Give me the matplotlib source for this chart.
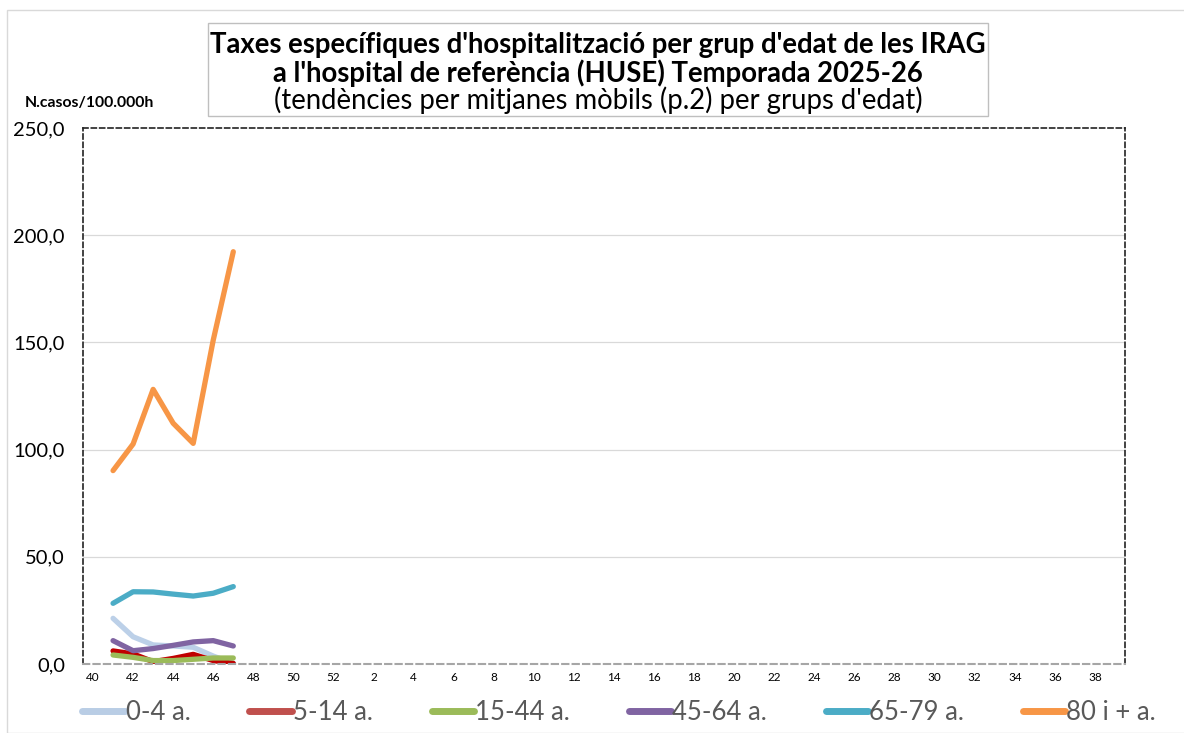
import matplotlib.pyplot as plt
from matplotlib.lines import Line2D
from matplotlib.patches import Rectangle

plt.rcParams['font.family'] = ['Lato', 'DejaVu Sans']

# weeks of the season (40..52 then 1..39)
weeks = [str(w) for w in range(40, 53)] + [str(w) for w in range(1, 40)]
data_weeks = ['41', '42', '43', '44', '45', '46', '47']

grup_0_4 = [21.3, 12.7, 8.9, 8.4, 7.8, 3.7, 0.3]
grup_5_14 = [6.1, 4.7, 1.1, 2.6, 4.5, 1.6, 0.3]
grup_15_44 = [4.2, 3.1, 1.6, 1.6, 2.2, 2.8, 2.8]
grup_45_64 = [10.9, 6.2, 7.2, 8.7, 10.3, 10.9, 8.4]
grup_65_79 = [28.3, 33.7, 33.6, 32.6, 31.7, 33.0, 36.1]
grup_80 = [90.2, 102.6, 128.1, 112.3, 102.9, 151.1, 192.3]

labels = ['0-4 a.', '5-14 a.', '15-44 a.', '45-64 a.', '65-79 a.', '80 i + a.']
line_colors = ['#BCD0E8', '#C00000', '#9BBB59', '#8064A2', '#4BACC6', '#F79646']
legend_colors = ['#B9CDE5', '#C0504D', '#9BBB59', '#8064A2', '#4BACC6', '#F79646']
series = [grup_0_4, grup_5_14, grup_15_44, grup_45_64, grup_65_79, grup_80]

fig = plt.figure(figsize=(11.84, 7.33), dpi=100)
ax = fig.add_axes([83/1184, 1-664/733, (1125-83)/1184, (664-128)/733])

xpos = [weeks.index(w) for w in data_weeks]
for vals, c in zip(series, line_colors):
    ax.plot(xpos, vals, color=c, lw=3.8, solid_capstyle='round', solid_joinstyle='round')

ax.set_xlim(-0.5, len(weeks) - 0.5)
ax.set_ylim(0, 250)
ax.set_yticks([0, 50, 100, 150, 200, 250])
ax.set_yticklabels(['0,0', '50,0', '100,0', '150,0', '200,0', '250,0'], fontsize=14.5)
ax.set_xticks(range(0, len(weeks), 2))
ax.set_xticklabels(weeks[::2], fontsize=8.5)
ax.tick_params(axis='y', length=0, pad=13)
ax.tick_params(axis='x', length=0, pad=6)
for y in [50, 100, 150, 200]:
    ax.axhline(y, color='#D9D9D9', lw=0.9, zorder=0)

for s in ['left', 'top', 'right']:
    ax.spines[s].set_linestyle((0, (3, 2)))
    ax.spines[s].set_color('#222222')
    ax.spines[s].set_linewidth(1.2)
ax.spines['bottom'].set_linestyle((0, (3, 2)))
ax.spines['bottom'].set_color('#A6A6A6')
ax.spines['bottom'].set_linewidth(1.5)

# outer chart border
fig.patches.append(Rectangle((7/1184, 0), 1.1, 1-10/733, transform=fig.transFigure,
                             fill=False, edgecolor='#D9D9D9', lw=1))
# title box
fig.patches.append(Rectangle((208/1184, 1-116/733), (988-208)/1184, (116-23)/733,
                             transform=fig.transFigure, fill=False, edgecolor='#BFBFBF', lw=1))
fig.text(598/1184, 1-45/733, "Taxes específiques d'hospitalització per grup d'edat de les IRAG",
         ha='center', va='center', fontsize=19.8, fontweight='bold')
fig.text(598/1184, 1-73/733, "a l'hospital de referència (HUSE) Temporada 2025-26",
         ha='center', va='center', fontsize=19.8, fontweight='bold')
fig.text(598/1184, 1-100/733, "(tendències per mitjanes mòbils (p.2) per grups d'edat)",
         ha='center', va='center', fontsize=19.8)
fig.text(25/1184, 1-103/733, 'N.casos/100.000h', ha='left', va='center',
         fontsize=11.3, fontweight='bold')

handles = [Line2D([], [], color=c, lw=5, solid_capstyle='round') for c in legend_colors]
fig.legend(handles, labels, loc='center', bbox_to_anchor=(0.523, 1-712/733), ncol=6,
           frameon=False, fontsize=18.5, handlelength=1.65, handletextpad=0.05,
           columnspacing=2.28, labelcolor='#595959')

fig.savefig('out.png', dpi=100)
